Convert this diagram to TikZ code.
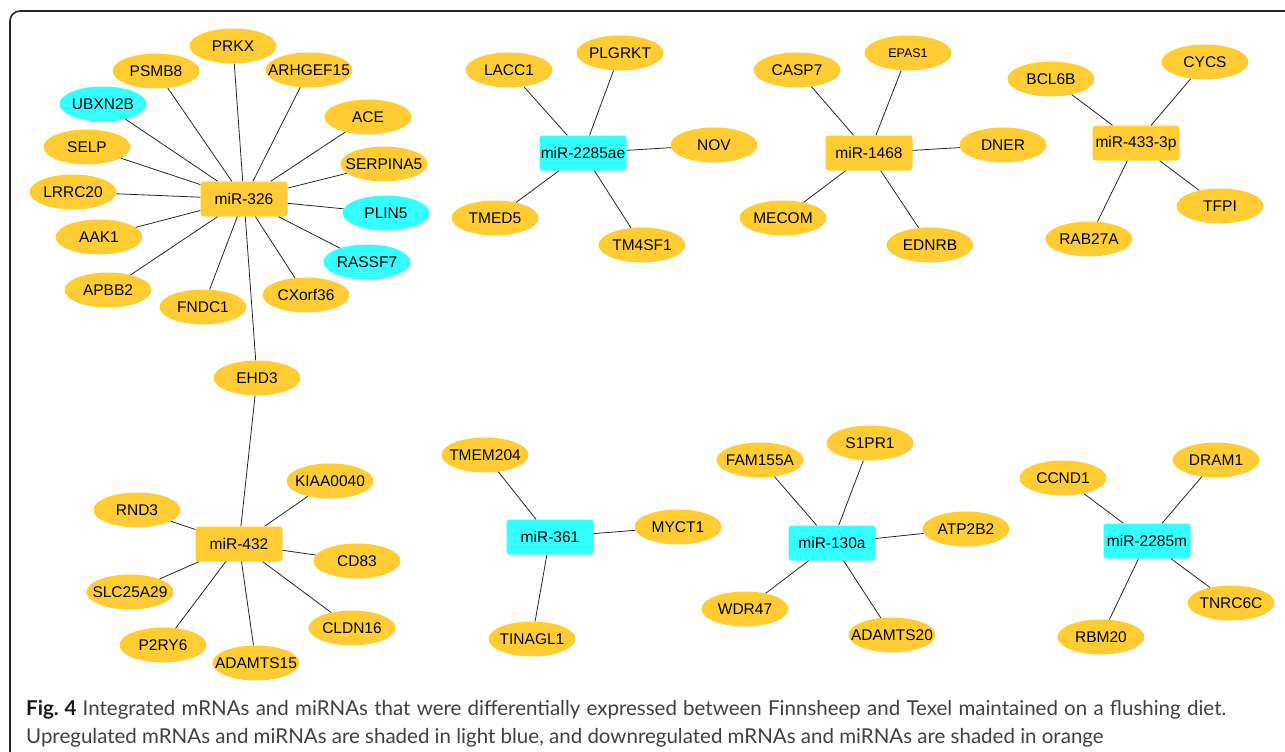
\documentclass[tikz,border=0pt]{standalone}
\usepackage{fontspec}
\setmainfont{Liberation Sans}
\newfontfamily\captionfont{Lato}
\usetikzlibrary{shapes.geometric,positioning}

\definecolor{downorange}{RGB}{255,204,51}
\definecolor{upcyan}{RGB}{51,255,255}
\definecolor{captiongray}{RGB}{64,64,64}

\begin{document}
\begin{tikzpicture}
                [
                    x=1pt, y=-1pt,
                    gene/.style={ellipse, fill=downorange, minimum width=87pt, minimum height=35pt, inner xsep=-12pt, inner ysep=0pt, font=\fontsize{15.5}{16}\selectfont},
                    upgene/.style={gene, fill=upcyan},
                    mirna/.style={rectangle, rounded corners=3pt, fill=downorange, minimum width=87pt, minimum height=35pt, inner sep=0pt, font=\fontsize{15.5}{16}\selectfont},
                    upmirna/.style={mirna, fill=upcyan},
                    link/.style={draw=black!85, line width=0.8pt},
                    framebox/.style={draw=black!85, line width=1.6pt, rounded corners=10pt},
                    caption/.style={anchor=base west, inner sep=0pt, text width=1200pt, align=justify, text=captiongray, font=\captionfont\fontsize{20.5}{28}\selectfont}
                ]

                \useasboundingbox (0,0) rectangle (1285,752);
                \draw [framebox] (10,11) rectangle (1310,770);

                % miR-326 and miR-432
                \node [mirna] (mir326) at (244,199) {miR-326};
                \node [gene] (prkx) at (233,46) {PRKX};
                \node [gene] (psmb8) at (156,71) {PSMB8};
                \node [gene] (arhgef15) at (309,70) {ARHGEF15};
                \node [upgene] (ubxn2b) at (103,104) {UBXN2B};
                \node [gene] (ace) at (368,117) {ACE};
                \node [gene] (selp) at (87,147) {SELP};
                \node [gene] (serpina5) at (384,164) {SERPINA5};
                \node [gene] (lrrc20) at (73,192) {LRRC20};
                \node [upgene] (plin5) at (386,213) {PLIN5};
                \node [gene] (aak1) at (99,237) {AAK1};
                \node [upgene] (rassf7) at (367,262) {RASSF7};
                \node [gene] (apbb2) at (108,290) {APBB2};
                \node [gene] (fndc1) at (203,307) {FNDC1};
                \node [gene] (cxorf36) at (306,295) {CXorf36};
                \node [gene] (ehd3) at (257,378) {EHD3};

                \node [mirna] (mir432) at (239,544) {miR-432};
                \node [gene] (kiaa0040) at (330,481) {KIAA0040};
                \node [gene] (rnd3) at (137,510) {RND3};
                \node [gene] (cd83) at (357,561) {CD83};
                \node [gene] (slc25a29) at (130,592) {SLC25A29};
                \node [gene] (cldn16) at (352,628) {CLDN16};
                \node [gene] (p2ry6) at (163,645) {P2RY6};
                \node [gene] (adamts15) at (256,663) {ADAMTS15};

                % top row
                \node [upmirna] (mir2285ae) at (583,153) {miR-2285ae};
                \node [gene] (lacc1) at (509,70) {LACC1};
                \node [gene] (plgrkt) at (620,53) {PLGRKT};
                \node [gene] (nov) at (714,145) {NOV};
                \node [gene] (tmed5) at (495,218) {TMED5};
                \node [gene] (tm4sf1) at (642,245) {TM4SF1};

                \node [mirna] (mir1468) at (869,153) {miR-1468};
                \node [gene] (casp7) at (797,70) {CASP7};
                \node [gene, font=\fontsize{12.5}{13}\selectfont] (epas1) at (908,53) {EPAS1};
                \node [gene] (dner) at (1003,145) {DNER};
                \node [gene] (mecom) at (783,218) {MECOM};
                \node [gene] (ednrb) at (930,245) {EDNRB};

                \node [mirna] (mir4333p) at (1136,143) {miR-433-3p};
                \node [gene] (bcl6b) at (1051,79) {BCL6B};
                \node [gene] (cycs) at (1205,62) {CYCS};
                \node [gene] (tfpi) at (1220,206) {TFPI};
                \node [gene] (rab27a) at (1089,239) {RAB27A};

                % bottom row
                \node [upmirna] (mir361) at (550,537) {miR-361};
                \node [gene] (tmem204) at (485,455) {TMEM204};
                \node [gene] (myct1) at (678,527) {MYCT1};
                \node [gene] (tinagl1) at (532,639) {TINAGL1};

                \node [upmirna] (mir130a) at (832,543) {miR-130a};
                \node [gene] (fam155a) at (760,460) {FAM155A};
                \node [gene] (s1pr1) at (870,443) {S1PR1};
                \node [gene] (atp2b2) at (966,529) {ATP2B2};
                \node [gene] (wdr47) at (745,609) {WDR47};
                \node [gene] (adamts20) at (892,635) {ADAMTS20};

                \node [upmirna] (mir2285m) at (1147,541) {miR-2285m};
                \node [gene] (ccnd1) at (1063,478) {CCND1};
                \node [gene] (dram1) at (1216,460) {DRAM1};
                \node [gene] (tnrc6c) at (1231,603) {TNRC6C};
                \node [gene] (rbm20) at (1101,637) {RBM20};

                \draw [link] (mir326) -- (prkx);
                \draw [link] (mir326) -- (psmb8);
                \draw [link] (mir326) -- (arhgef15);
                \draw [link] (mir326) -- (ubxn2b);
                \draw [link] (mir326) -- (ace);
                \draw [link] (mir326) -- (selp);
                \draw [link] (mir326) -- (serpina5);
                \draw [link] (mir326) -- (lrrc20);
                \draw [link] (mir326) -- (plin5);
                \draw [link] (mir326) -- (aak1);
                \draw [link] (mir326) -- (rassf7);
                \draw [link] (mir326) -- (apbb2);
                \draw [link] (mir326) -- (fndc1);
                \draw [link] (mir326) -- (cxorf36);
                \draw [link] (mir326) -- (ehd3);
                \draw [link] (ehd3) -- (mir432);

                \draw [link] (mir432) -- (kiaa0040);
                \draw [link] (mir432) -- (rnd3);
                \draw [link] (mir432) -- (cd83);
                \draw [link] (mir432) -- (slc25a29);
                \draw [link] (mir432) -- (cldn16);
                \draw [link] (mir432) -- (p2ry6);
                \draw [link] (mir432) -- (adamts15);

                \draw [link] (mir2285ae) -- (lacc1);
                \draw [link] (mir2285ae) -- (plgrkt);
                \draw [link] (mir2285ae) -- (nov);
                \draw [link] (mir2285ae) -- (tmed5);
                \draw [link] (mir2285ae) -- (tm4sf1);

                \draw [link] (mir1468) -- (casp7);
                \draw [link] (mir1468) -- (epas1);
                \draw [link] (mir1468) -- (dner);
                \draw [link] (mir1468) -- (mecom);
                \draw [link] (mir1468) -- (ednrb);

                \draw [link] (mir4333p) -- (bcl6b);
                \draw [link] (mir4333p) -- (cycs);
                \draw [link] (mir4333p) -- (tfpi);
                \draw [link] (mir4333p) -- (rab27a);

                \draw [link] (mir361) -- (tmem204);
                \draw [link] (mir361) -- (myct1);
                \draw [link] (mir361) -- (tinagl1);

                \draw [link] (mir130a) -- (fam155a);
                \draw [link] (mir130a) -- (s1pr1);
                \draw [link] (mir130a) -- (atp2b2);
                \draw [link] (mir130a) -- (wdr47);
                \draw [link] (mir130a) -- (adamts20);

                \draw [link] (mir2285m) -- (ccnd1);
                \draw [link] (mir2285m) -- (dram1);
                \draw [link] (mir2285m) -- (tnrc6c);
                \draw [link] (mir2285m) -- (rbm20);

                \node [caption] (figcaption) at (26,715) {{\color{black!90}\bfseries Fig.~4} Integrated mRNAs and miRNAs that were differentially expressed between Finnsheep and Texel maintained on a flushing diet.\linebreak Upregulated mRNAs and miRNAs are shaded in light blue, and downregulated mRNAs and miRNAs are shaded in orange};

            \end{tikzpicture}
\end{document}
